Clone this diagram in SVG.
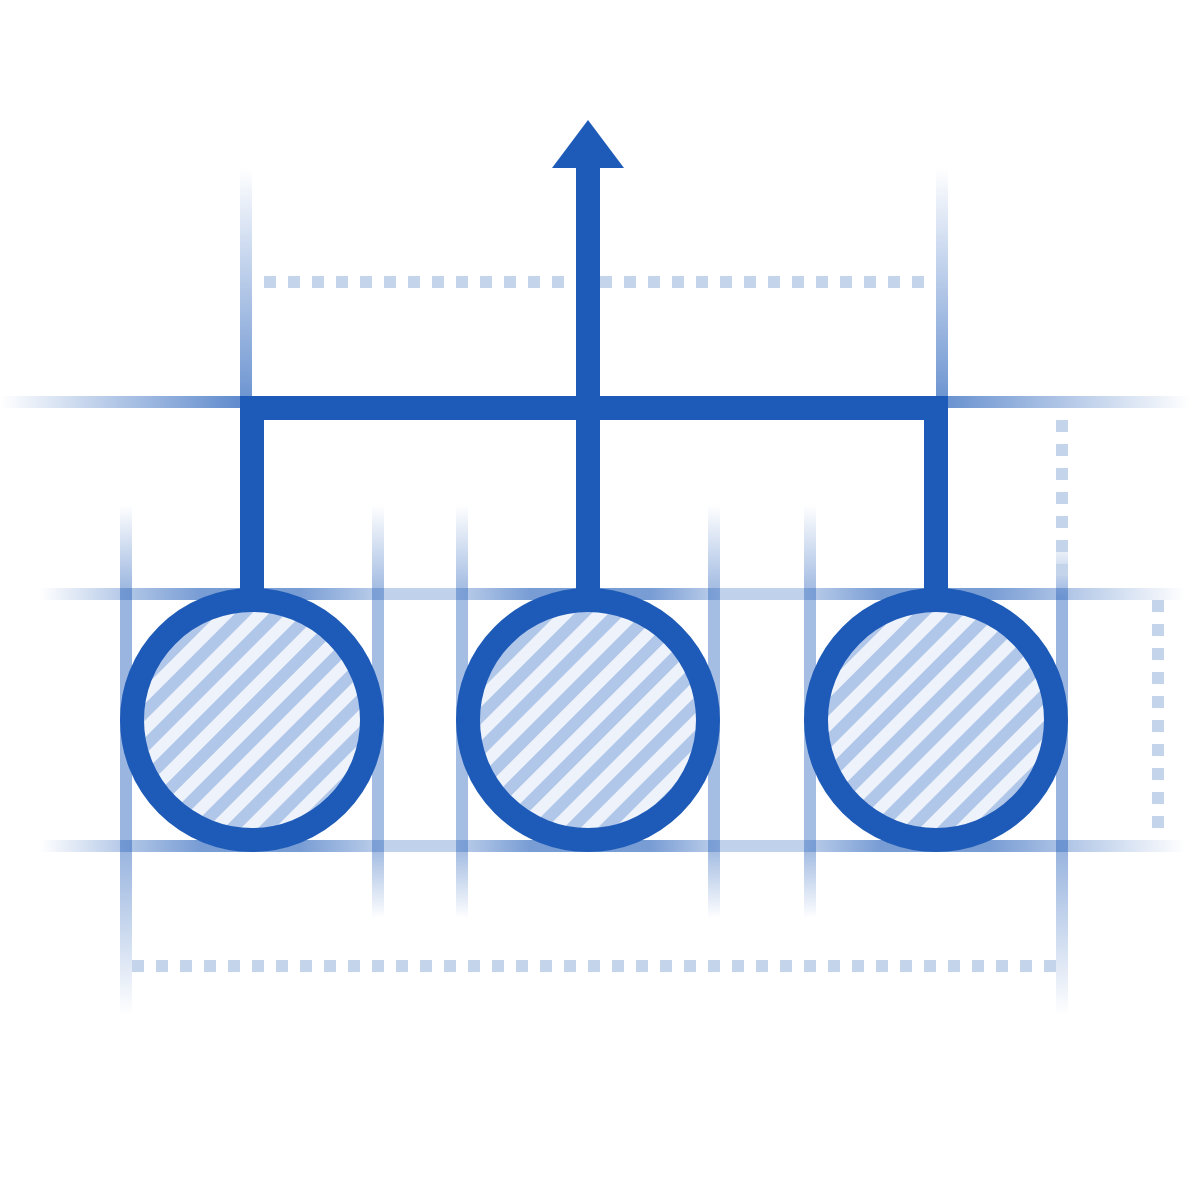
<svg xmlns="http://www.w3.org/2000/svg" width="1200" height="1200" viewBox="0 0 1200 1200">
  <style>
    .guide { stroke-width: 12; fill: none; }
    .dots { stroke: #c3d4eb; stroke-width: 12; stroke-dasharray: 12 12; fill: none; }
    .main { stroke: #1e5bb8; stroke-width: 24; fill: none; stroke-linejoin: miter; stroke-linecap: butt; }
    .node { stroke: #1e5bb8; stroke-width: 24; fill: url(#hatch); }
  </style>
  <defs>
    <pattern id="hatch" patternUnits="userSpaceOnUse" width="24" height="24" patternTransform="rotate(45)">
      <rect width="24" height="24" fill="#eef3fb"/>
      <rect width="12" height="24" fill="#b1c7e9"/>
    </pattern>
    <linearGradient id="gTop" gradientUnits="userSpaceOnUse" x1="0" y1="0" x2="1190" y2="0">
      <stop offset="0" stop-color="#1e5bb8" stop-opacity="0"/>
      <stop offset="0.2" stop-color="#1e5bb8" stop-opacity="0.7"/>
      <stop offset="0.8" stop-color="#1e5bb8" stop-opacity="0.65"/>
      <stop offset="1" stop-color="#1e5bb8" stop-opacity="0"/>
    </linearGradient>
    <linearGradient id="gMid" gradientUnits="userSpaceOnUse" x1="40" y1="0" x2="1185" y2="0">
      <stop offset="0" stop-color="#1e5bb8" stop-opacity="0"/>
      <stop offset="0.07" stop-color="#1e5bb8" stop-opacity="0.32"/>
      <stop offset="0.14" stop-color="#1e5bb8" stop-opacity="0.6"/>
      <stop offset="0.227" stop-color="#1e5bb8" stop-opacity="0.6"/>
      <stop offset="0.3" stop-color="#1e5bb8" stop-opacity="0.28"/>
      <stop offset="0.363" stop-color="#1e5bb8" stop-opacity="0.28"/>
      <stop offset="0.428" stop-color="#1e5bb8" stop-opacity="0.6"/>
      <stop offset="0.533" stop-color="#1e5bb8" stop-opacity="0.6"/>
      <stop offset="0.594" stop-color="#1e5bb8" stop-opacity="0.28"/>
      <stop offset="0.667" stop-color="#1e5bb8" stop-opacity="0.28"/>
      <stop offset="0.734" stop-color="#1e5bb8" stop-opacity="0.6"/>
      <stop offset="0.83" stop-color="#1e5bb8" stop-opacity="0.6"/>
      <stop offset="0.898" stop-color="#1e5bb8" stop-opacity="0.35"/>
      <stop offset="1" stop-color="#1e5bb8" stop-opacity="0"/>
    </linearGradient>
    <linearGradient id="vTop" gradientUnits="userSpaceOnUse" x1="0" y1="168" x2="0" y2="400">
      <stop offset="0" stop-color="#1e5bb8" stop-opacity="0"/>
      <stop offset="1" stop-color="#1e5bb8" stop-opacity="0.65"/>
    </linearGradient>
    <linearGradient id="vLong" gradientUnits="userSpaceOnUse" x1="0" y1="505" x2="0" y2="1015">
      <stop offset="0" stop-color="#1e5bb8" stop-opacity="0"/>
      <stop offset="0.17" stop-color="#1e5bb8" stop-opacity="0.45"/>
      <stop offset="0.68" stop-color="#1e5bb8" stop-opacity="0.45"/>
      <stop offset="1" stop-color="#1e5bb8" stop-opacity="0"/>
    </linearGradient>
    <linearGradient id="vShort" gradientUnits="userSpaceOnUse" x1="0" y1="505" x2="0" y2="918">
      <stop offset="0" stop-color="#1e5bb8" stop-opacity="0"/>
      <stop offset="0.2" stop-color="#1e5bb8" stop-opacity="0.4"/>
      <stop offset="0.84" stop-color="#1e5bb8" stop-opacity="0.4"/>
      <stop offset="1" stop-color="#1e5bb8" stop-opacity="0"/>
    </linearGradient>
    <linearGradient id="vRight" gradientUnits="userSpaceOnUse" x1="0" y1="540" x2="0" y2="1015">
      <stop offset="0" stop-color="#1e5bb8" stop-opacity="0"/>
      <stop offset="0.12" stop-color="#1e5bb8" stop-opacity="0.45"/>
      <stop offset="0.66" stop-color="#1e5bb8" stop-opacity="0.45"/>
      <stop offset="1" stop-color="#1e5bb8" stop-opacity="0"/>
    </linearGradient>
  </defs>

  <rect width="1200" height="1200" fill="#ffffff"/>

  <g id="guides">
    <line class="guide" x1="0" y1="402" x2="1190" y2="402" stroke="url(#gTop)"/>
    <line class="guide" x1="40" y1="594" x2="1185" y2="594" stroke="url(#gMid)"/>
    <line class="guide" x1="40" y1="846" x2="1185" y2="846" stroke="url(#gMid)"/>
    <line class="guide" x1="246" y1="168" x2="246" y2="400" stroke="url(#vTop)"/>
    <line class="guide" x1="942" y1="168" x2="942" y2="400" stroke="url(#vTop)"/>
    <line class="guide" x1="126" y1="505" x2="126" y2="1015" stroke="url(#vLong)"/>
    <line class="guide" x1="378" y1="505" x2="378" y2="918" stroke="url(#vShort)"/>
    <line class="guide" x1="462" y1="505" x2="462" y2="918" stroke="url(#vShort)"/>
    <line class="guide" x1="714" y1="505" x2="714" y2="918" stroke="url(#vShort)"/>
    <line class="guide" x1="810" y1="505" x2="810" y2="918" stroke="url(#vShort)"/>
    <line class="guide" x1="1062" y1="540" x2="1062" y2="1015" stroke="url(#vRight)"/>
  </g>

  <g id="dimensions">
    <line class="dots" x1="264" y1="282" x2="924" y2="282"/>
    <line class="dots" x1="1062" y1="420" x2="1062" y2="576"/>
    <line class="dots" x1="1158" y1="600" x2="1158" y2="828"/>
    <line class="dots" x1="132" y1="966" x2="1056" y2="966"/>
  </g>

  <g id="connectors">
    <path class="main" d="M252 600 V408 H936 V600"/>
    <path class="main" d="M588 600 V160"/>
    <polygon points="588,120 624,168 552,168" fill="#1e5bb8"/>
  </g>

  <g id="node-left">
    <circle class="node" cx="252" cy="720" r="120"/>
  </g>
  <g id="node-middle">
    <circle class="node" cx="588" cy="720" r="120"/>
  </g>
  <g id="node-right">
    <circle class="node" cx="936" cy="720" r="120"/>
  </g>
</svg>
